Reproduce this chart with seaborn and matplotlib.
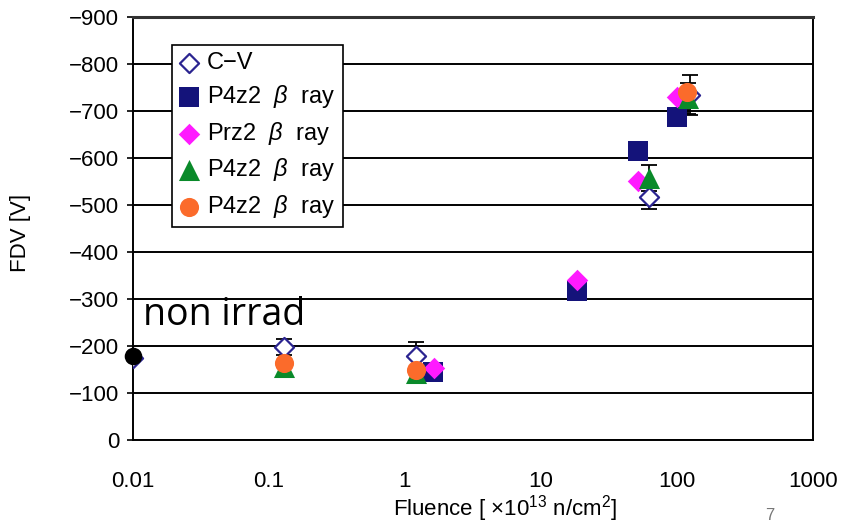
import numpy as np
import pandas as pd
import matplotlib
matplotlib.use("Agg")
import matplotlib.pyplot as plt
import seaborn as sns

# data (FDV in volts, fluence in 1e13 n/cm2)
cv_x = [0.01, 0.13, 1.2, 62, 125]
cv_y = [-175, -198, -178, -517, -734]
cv_err = [0, 17, 30, 26, 42]

sq_x = [1.62, 18.5, 52, 100]
sq_y = [-145, -318, -615, -688]
sq_err = [0, 0, 0, 8]

mg_x = [1.65, 18.5, 52, 100]
mg_y = [-153, -340, -552, -730]

gr_x = [0.13, 1.2, 62, 120]
gr_y = [-155, -142, -557, -727]
gr_err = [0, 0, 28, 33]

or_x = [0.13, 1.2, 118]
or_y = [-164, -149, -740]
or_err = [5, 0, 0]

nonirr_x = [0.01]
nonirr_y = [-178]

labels = ["C\u2212V", r"P4z2  $\beta$  ray", r"Prz2  $\beta$  ray",
          r"P4z2  $\beta$  ray", r"P4z2  $\beta$  ray"]
yticks = list(range(0, -1000, -100))
xticks = [0.01, 0.1, 1, 10, 100, 1000]
xtick_labels = ["0.01", "0.1", "1", "10", "100", "1000"]

sns.set_theme(style="white")
plt.rcParams["font.family"] = ["Liberation Sans", "DejaVu Sans"]
plt.rcParams["mathtext.fontset"] = "custom"
plt.rcParams["mathtext.it"] = "Liberation Sans:italic"
plt.rcParams["mathtext.rm"] = "Liberation Sans"

fig = plt.figure(figsize=(8.61, 5.24), dpi=100)
ax = fig.add_axes([0.1545, 0.160, 0.7895, 0.8075])

navy = "#14137a"
cv_col = "#2b2490"
mag = "#ff1aff"
green = "#0a8a2a"
orange = "#fb6b2b"

# error bars
ax.errorbar(cv_x, cv_y, yerr=cv_err, fmt="none", ecolor="black", elinewidth=1.3, capsize=6, capthick=1.3, zorder=3)
ax.errorbar(sq_x, sq_y, yerr=sq_err, fmt="none", ecolor="black", elinewidth=1.3, capsize=6, capthick=1.3, zorder=3)
ax.errorbar(gr_x, gr_y, yerr=gr_err, fmt="none", ecolor="black", elinewidth=1.3, capsize=6, capthick=1.3, zorder=3)
ax.errorbar(or_x, or_y, yerr=or_err, fmt="none", ecolor="black", elinewidth=1.3, capsize=5, capthick=1.3, zorder=3)

sns.scatterplot(x=cv_x, y=cv_y, marker="D", s=95, facecolor="white", edgecolor=cv_col,
                linewidth=1.6, label=labels[0], ax=ax, zorder=4)
sns.scatterplot(x=sq_x, y=sq_y, marker="s", s=190, color=navy, edgecolor=navy,
                linewidth=0, label=labels[1], ax=ax, zorder=5)
sns.scatterplot(x=mg_x, y=mg_y, marker="D", s=120, color=mag, edgecolor=mag,
                linewidth=0, label=labels[2], ax=ax, zorder=6)
sns.scatterplot(x=gr_x, y=gr_y, marker="^", s=230, color=green, edgecolor=green,
                linewidth=0, label=labels[3], ax=ax, zorder=7)
sns.scatterplot(x=or_x, y=or_y, marker="o", s=190, color=orange, edgecolor=orange,
                linewidth=0, label=labels[4], ax=ax, zorder=8)
sns.scatterplot(x=nonirr_x, y=nonirr_y, marker="o", s=160, color="black", edgecolor="black",
                linewidth=0, ax=ax, zorder=9, clip_on=False, legend=False)

ax.set_xscale("log")
ax.set_xlim(0.01, 1000)
ax.set_ylim(0, -900)
ax.set_xticks(xticks)
ax.set_xticklabels(xtick_labels)
ax.set_yticks(yticks)
ax.set_yticklabels([("\u2212" + str(-v)) if v < 0 else "0" for v in yticks])
ax.xaxis.set_minor_locator(matplotlib.ticker.NullLocator())

ax.yaxis.grid(True, color="black", linewidth=1.4)
ax.xaxis.grid(False)
ax.set_axisbelow(True)
for s in ax.spines.values():
    s.set_color("black")
    s.set_linewidth(1.4)
ax.spines["top"].set_color("#333333")
ax.spines["top"].set_linewidth(2.2)

ax.tick_params(axis="x", direction="in", length=7, width=1.2, color="black",
               labelsize=16, pad=22, labelcolor="black")
ax.tick_params(axis="y", direction="out", length=4, width=1.2, color="black",
               labelsize=16, pad=6, labelcolor="black", left=True)

ax.set_xlabel(r"Fluence [ $\times$10$^{13}$ n/cm$^{2}$]", fontsize=16, color="black")
ax.xaxis.set_label_coords((505 - 133) / 680, -0.125)
ax.set_ylabel("FDV [V]", fontsize=16, color="black")
ax.yaxis.set_label_coords(-0.15, 0.49)

leg = ax.legend(loc="upper left", bbox_to_anchor=(0.057, 0.934), borderaxespad=0,
                fontsize=17, frameon=True, fancybox=False, framealpha=1,
                edgecolor="black", handlelength=0.9, handletextpad=0.3,
                labelspacing=0.4, borderpad=0.3)
leg.get_frame().set_linewidth(1.2)
for t in leg.get_texts():
    t.set_color("black")

ax.text(0.015, 0.295, "non irrad", transform=ax.transAxes, fontsize=27,
        family="Open Sans", va="center", ha="left", color="black")

fig.text(0.889, 0.002, "7", fontsize=12, color="#777777", ha="left", va="bottom")

fig.savefig("out.png", dpi=100)
